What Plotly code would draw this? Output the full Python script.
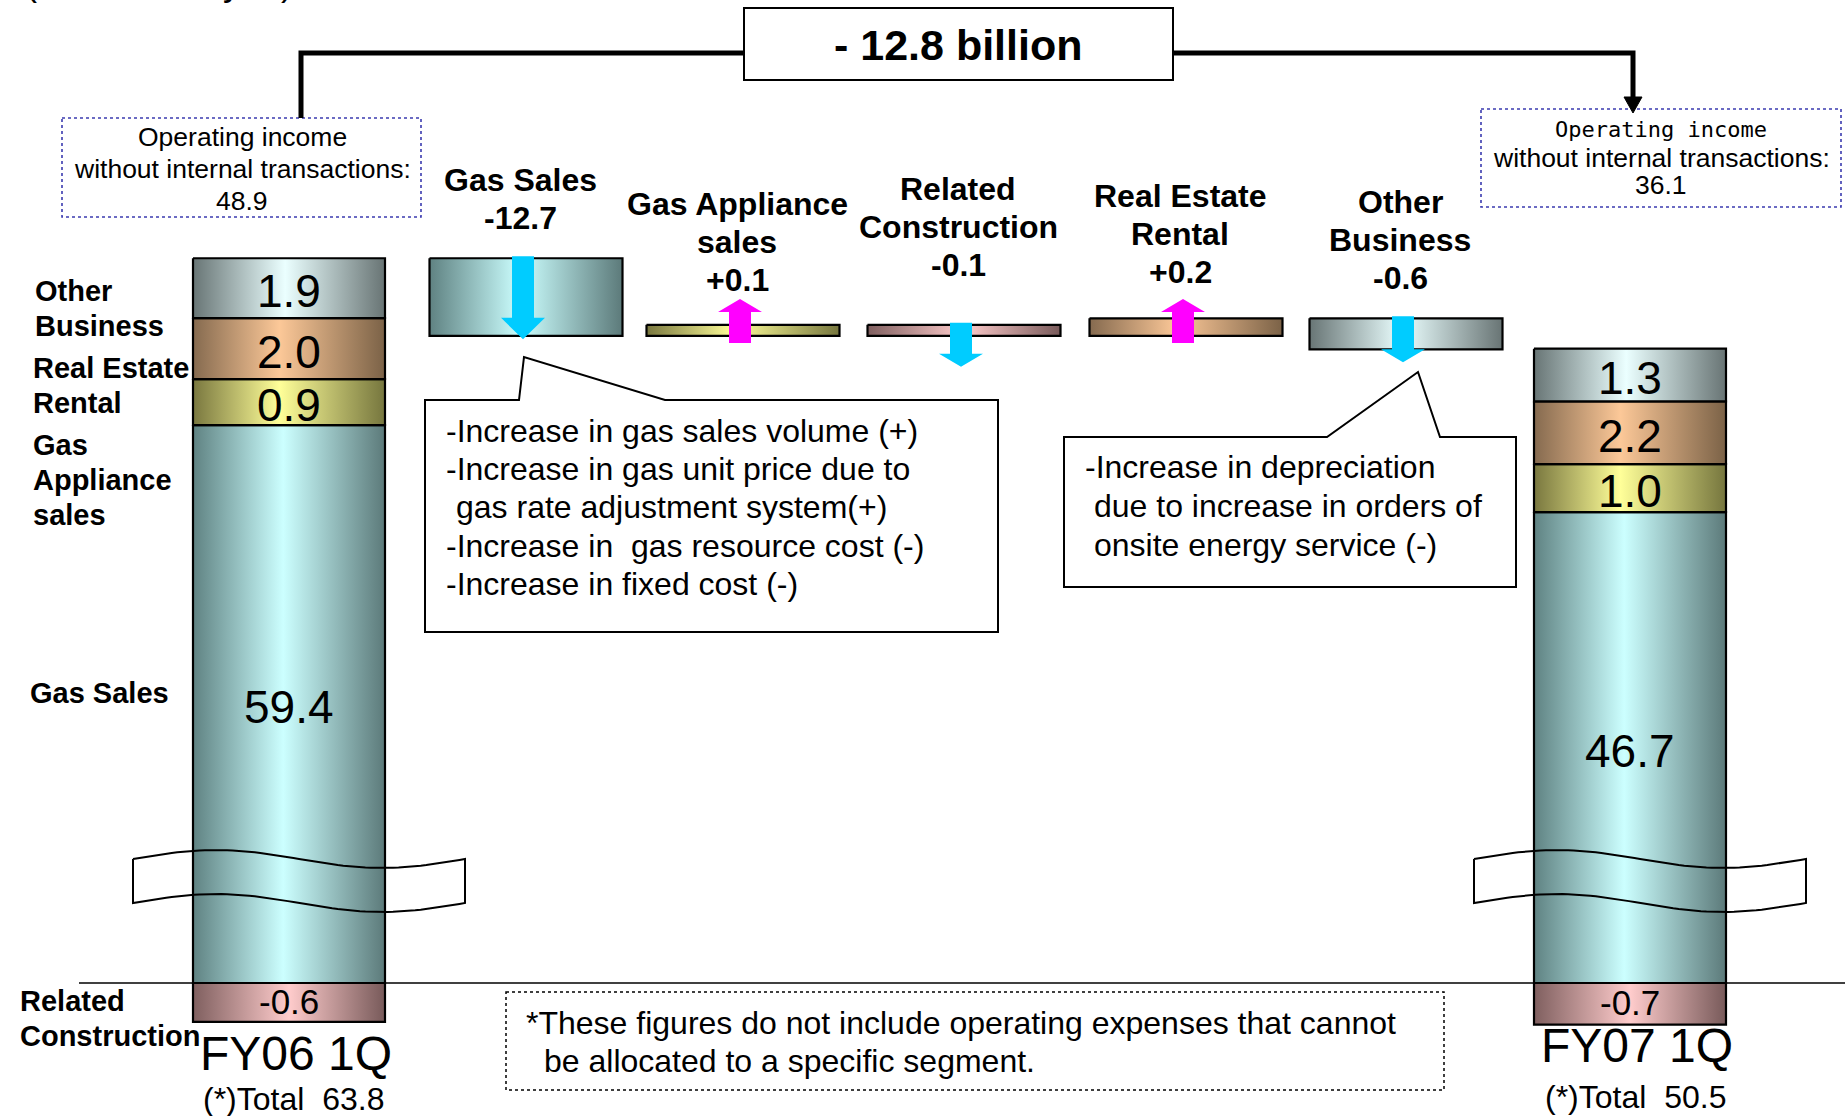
import math
import plotly.graph_objects as go

# ---------------------------------------------------------------------------
# Operating income by segment (billion yen)
# ---------------------------------------------------------------------------
period_names = ["FY06 1Q", "FY07 1Q"]
period_totals = [63.8, 50.5]
op_income_ex_internal = [48.9, 36.1]

# stacking order, bottom -> top (above the zero line)
stack_segments = ["Gas Sales", "Gas Appliance sales", "Real Estate Rental", "Other Business"]
fy06_stack = [59.4, 0.9, 2.0, 1.9]
fy07_stack = [46.7, 1.0, 2.2, 1.3]
related_construction = [-0.6, -0.7]   # below the zero line

change_names = ["Gas Sales", "Gas Appliance sales", "Related Construction",
                "Real Estate Rental", "Other Business"]
change_values = [-12.7, 0.1, -0.1, 0.2, -0.6]
net_change = -12.8

# ---------------------------------------------------------------------------
# Styling / layout constants
# ---------------------------------------------------------------------------
W, H = 1845, 1116
SANS = "Liberation Sans, Arial, sans-serif"
MONO = "DejaVu Sans Mono, Liberation Mono, monospace"

FILLS = {
    "Gas Sales": [[0, "#5f8282"], [0.47, "#ccffff"], [1, "#5c7a7a"]],
    "Gas Appliance sales": [[0, "#79773f"], [0.45, "#ffff99"], [1, "#76763e"]],
    "Real Estate Rental": [[0, "#856a4f"], [0.45, "#fcc898"], [1, "#7b6247"]],
    "Other Business": [[0, "#687575"], [0.48, "#ebffff"], [1, "#687474"]],
    "Related Construction": [[0, "#7f5f5f"], [0.5, "#ffcccc"], [1, "#785a5a"]],
}
UP_COLOR, DOWN_COLOR = "#ff00ff", "#00ccff"

ZERO_Y = 983                 # pixel row of the zero line
BAR_W = 192
PERIOD_X = [289, 1630]       # centres of the two period bars
CHANGE_X = [526, 743, 964, 1186, 1406]
CHANGE_W = 193

# broken axis: the large gas segment is drawn with an offset + linear scale,
# the small segments on a compressed (log) scale so their labels fit
GAS_BREAK_PX, GAS_PX = 151.0, 6.85
SMALL_PX, SMALL_V0 = 20.0, 0.1
DELTA_PX = 16.0


def seg_height(name, v):
    if name == "Gas Sales":
        return GAS_BREAK_PX + GAS_PX * abs(v)
    return SMALL_PX * math.log(1 + abs(v) / SMALL_V0)


def delta_height(v):
    return DELTA_PX * math.log(1 + abs(v) / SMALL_V0)


fig = go.Figure()


def rect(x0, x1, y0, y1, scale, lw=2.2):
    fig.add_trace(go.Scatter(
        x=[x0, x1, x1, x0, x0], y=[y0, y0, y1, y1, y0], mode="lines",
        fill="toself", fillgradient=dict(type="horizontal", colorscale=scale),
        line=dict(color="black", width=lw), hoverinfo="skip", showlegend=False))


def text(x, y, s, size, bold=False, family=SANS, xanchor="center", yanchor="middle"):
    fig.add_annotation(x=x, y=y, xref="x", yref="y", showarrow=False,
                       text=f"<b>{s}</b>" if bold else s,
                       font=dict(size=size, family=family, color="black"),
                       xanchor=xanchor, yanchor=yanchor)


def lines_block(x, y_first, rows, size, gap, bold=False, xanchor="center", family=SANS):
    for k, r in enumerate(rows):
        text(x, y_first + k * gap, r, size, bold=bold, xanchor=xanchor, family=family)


def arrow(cx, y_start, y_tip, color):
    sw, hw = 11, 22
    length = abs(y_tip - y_start)
    hl = max(0.26 * length, 13)
    d = 1 if y_tip > y_start else -1
    yb = y_tip - d * hl
    xs = [cx - sw, cx + sw, cx + sw, cx + hw, cx, cx - hw, cx - sw, cx - sw]
    ys = [y_start, y_start, yb, yb, y_tip, yb, yb, y_start]
    fig.add_trace(go.Scatter(x=xs, y=ys, mode="lines", fill="toself",
                             fillcolor=color, line=dict(width=0, color=color),
                             hoverinfo="skip", showlegend=False))


# zero line
fig.add_shape(type="line", x0=79, x1=W, y0=ZERO_Y, y1=ZERO_Y,
              line=dict(color="black", width=1.6), layer="below")

# ---------------------------------------------------------------------------
# Period bars (stacked)
# ---------------------------------------------------------------------------
bar_tops = []
for cx, values, rc in zip(PERIOD_X, [fy06_stack, fy07_stack], related_construction):
    x0, x1 = cx - BAR_W / 2, cx + BAR_W / 2
    top = ZERO_Y
    centres = []
    for name, v in zip(stack_segments, values):
        h = seg_height(name, v)
        rect(x0, x1, top - h, top, FILLS[name])
        centres.append((top - h / 2, v, name))
        top -= h
    bar_tops.append(top)
    hrc = seg_height("Related Construction", rc)
    rect(x0, x1, ZERO_Y, ZERO_Y + hrc, FILLS["Related Construction"])
    for yc, v, name in centres:
        text(cx, yc + 3, f"{v:.1f}", 46)
    text(cx, ZERO_Y + hrc / 2 - 1, f"{rc:.1f}", 35)

    # axis-break marker across the gas segment
    bx0, bx1 = cx - 156, cx + 176
    yb = ZERO_Y - 124
    n = 60
    xs = [bx0 + (bx1 - bx0) * i / n for i in range(n + 1)]
    wave = [yb - 9 * math.sin(2 * math.pi * i / n) for i in range(n + 1)]
    fig.add_trace(go.Scatter(
        x=xs + xs[::-1] + [xs[0]],
        y=wave + [w + 44 for w in wave[::-1]] + [wave[0]],
        mode="lines", line=dict(color="black", width=2),
        hoverinfo="skip", showlegend=False))

# ---------------------------------------------------------------------------
# Change bars (waterfall between the two periods)
# ---------------------------------------------------------------------------
level = bar_tops[0]
change_geo = []
for cx, name, v in zip(CHANGE_X, change_names, change_values):
    h = delta_height(v)
    if v < 0:
        y0, y1 = level, level + h
        level += h
    else:
        y0, y1 = level - h, level
        level -= h
    rect(cx - CHANGE_W / 2, cx + CHANGE_W / 2, y0, y1, FILLS[name])
    change_geo.append((cx, y0, y1, v))

for cx, y0, y1, v in change_geo:
    h = y1 - y0
    length = max(0.8 * h + 21, 44)
    if v < 0:
        arrow(cx - 3, y0 - 2, y0 - 2 + length, DOWN_COLOR)
    else:
        arrow(cx - 3, y1 + 7, y1 + 7 - length, UP_COLOR)

# labels above change bars
CHANGE_LINES = {
    "Gas Sales": ["Gas Sales"],
    "Gas Appliance sales": ["Gas Appliance", "sales"],
    "Related Construction": ["Related", "Construction"],
    "Real Estate Rental": ["Real Estate", "Rental"],
    "Other Business": ["Other", "Business"],
}
CHANGE_LABEL_Y = [218, 280, 265, 272, 278]   # row of the value line
for cx, name, v, yv in zip(CHANGE_X, change_names, change_values, CHANGE_LABEL_Y):
    rows = CHANGE_LINES[name] + [f"{v:+.1f}"]
    lines_block(cx - 6, yv - 38 * (len(rows) - 1), rows, 32, 38, bold=True)

# ---------------------------------------------------------------------------
# Segment names on the left
# ---------------------------------------------------------------------------
SIDE_LINES = [
    (["Other", "Business"], 33, 291),
    (["Real Estate", "Rental"], 31, 368),
    (["Gas", "Appliance", "sales"], 31, 445),
    (["Gas Sales"], 28, 693),
    (["Related", "Construction"], 18, 1001),
]
for rows, x, y in SIDE_LINES:
    lines_block(x, y, rows, 29, 35, bold=True, xanchor="left")

# period captions
text(296, 1053, period_names[0], 48)
text(1637, 1045, period_names[1], 48)
text(293, 1099, f"(*)Total\u00a0\u00a0{period_totals[0]:.1f}", 32)
text(1635, 1097, f"(*)Total\u00a0\u00a0{period_totals[1]:.1f}", 32)

# ---------------------------------------------------------------------------
# Operating income boxes, connector and net change
# ---------------------------------------------------------------------------
fig.add_shape(type="rect", x0=62, x1=421, y0=118, y1=217,
              line=dict(color="#3b3bb0", width=1.6, dash="dot"), fillcolor="white")
fig.add_shape(type="rect", x0=1481, x1=1841, y0=109, y1=207,
              line=dict(color="#3b3bb0", width=1.6, dash="dot"), fillcolor="white")
lines_block(242, 137, ["Operating income", "without internal transactions:",
                       f"{op_income_ex_internal[0]:.1f}"], 26.5, 32)
text(1661, 129, "Operating income", 22, family=MONO)
text(1661, 158, "without internal transactions:", 26.5)
text(1661, 185, f"{op_income_ex_internal[1]:.1f}", 26.5)

fig.add_shape(type="path", path="M 301 118 L 301 53 L 744 53 M 1173 53 L 1633 53 L 1633 100",
              line=dict(color="black", width=5))
fig.add_shape(type="path", path="M 1624 97 L 1642 97 L 1633 113 Z",
              fillcolor="black", line=dict(color="black", width=1))
fig.add_shape(type="rect", x0=744, x1=1173, y0=8, y1=80,
              line=dict(color="black", width=2), fillcolor="white")
text(958, 45, f"- {abs(net_change):.1f} billion", 43, bold=True)

# ---------------------------------------------------------------------------
# Callouts
# ---------------------------------------------------------------------------
fig.add_shape(type="path",
              path="M 425 400 L 519 400 L 524 357 L 665 400 L 998 400 L 998 632 L 425 632 Z",
              fillcolor="white", line=dict(color="black", width=2))
for k, (x, s) in enumerate([
        (444, "-Increase in gas sales volume (+)"),
        (444, "-Increase in gas unit price due to"),
        (454, "gas rate adjustment system(+)"),
        (444, "-Increase in\u00a0\u00a0gas resource cost (-)"),
        (444, "-Increase in fixed cost (-)")]):
    text(x, 431 + 38.2 * k, s, 32, xanchor="left")

fig.add_shape(type="path",
              path="M 1064 437 L 1327 437 L 1418 372 L 1440 437 L 1516 437 L 1516 587 L 1064 587 Z",
              fillcolor="white", line=dict(color="black", width=2))
for k, (x, s) in enumerate([
        (1083, "-Increase in depreciation"),
        (1092, "due to increase in orders of"),
        (1092, "onsite energy service (-)")]):
    text(x, 467 + 39 * k, s, 32, xanchor="left")

# footnote
fig.add_shape(type="rect", x0=506, x1=1444, y0=992, y1=1090,
              line=dict(color="black", width=1.5, dash="dot"), fillcolor="white")
text(524, 1023, "*These figures do not include operating expenses that cannot", 32, xanchor="left")
text(542, 1061, "be allocated to a specific segment.", 32, xanchor="left")

# unit caption at the very top edge
fig.add_annotation(x=23, y=1, xref="x", yref="paper", xanchor="left", yanchor="bottom",
                   yshift=-5, showarrow=False, text="(Unit: billion yen)",
                   font=dict(size=36, family=SANS, color="black"))

fig.update_layout(
    width=W, height=H, margin=dict(l=0, r=0, t=0, b=0),
    paper_bgcolor="white", plot_bgcolor="white", showlegend=False,
    xaxis=dict(range=[0, W], visible=False, fixedrange=True),
    yaxis=dict(range=[H, 0], visible=False, fixedrange=True),
    hovermode=False,
)
fig.write_html("out.html", config={"displayModeBar": False})
